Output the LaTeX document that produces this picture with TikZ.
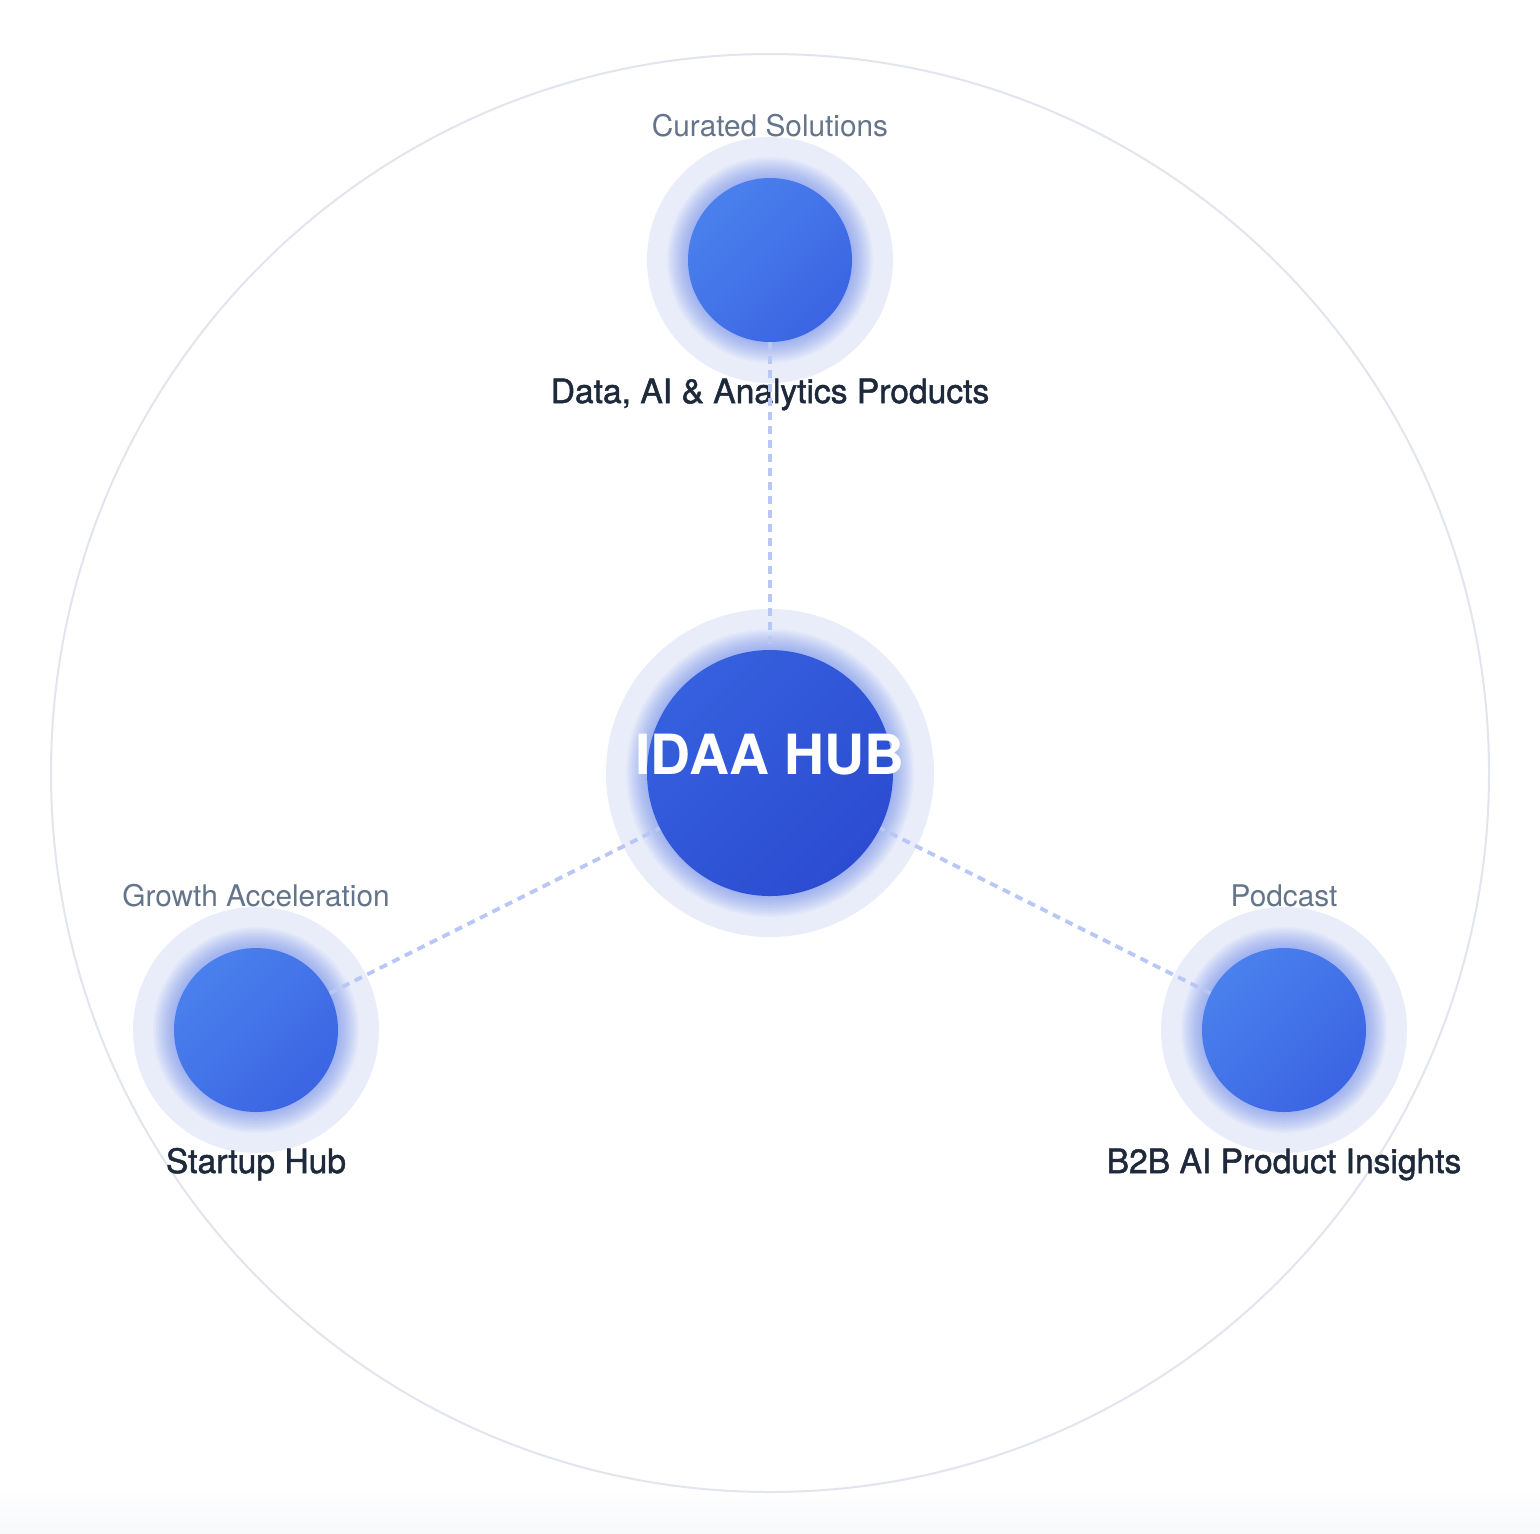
\documentclass[tikz,border=0pt]{standalone}
\usepackage{fontspec}
\setmainfont{TeX Gyre Heros}
\newfontfamily\medfont[FakeBold=1.4]{TeX Gyre Heros}
\usepackage{tikz}

\definecolor{ringgray}{HTML}{E3E5EE}
\definecolor{halofill}{HTML}{E9EDFA}
\definecolor{glowblue}{HTML}{5A7CF0}
\definecolor{satlight}{HTML}{4A80ED}
\definecolor{satdark}{HTML}{3B65E3}
\definecolor{hublight}{HTML}{3560DE}
\definecolor{hubdark}{HTML}{2C4CD1}
\definecolor{dashblue}{HTML}{B8C7F6}
\definecolor{tagtext}{HTML}{64748B}
\definecolor{nametext}{HTML}{1E293B}
\definecolor{bgbottom}{HTML}{F7F8FA}

\begin{document}
\begin{tikzpicture}[x=0.5pt,y=-0.5pt,
  halo/.style={circle,fill=halofill,inner sep=0pt},
  satnode/.style={circle,inner sep=0pt,minimum size=82pt,
    top color=satlight,bottom color=satdark,shading angle=45},
  hubnode/.style={circle,inner sep=0pt,minimum size=123pt,
    top color=hublight,bottom color=hubdark,shading angle=45},
  tagtxt/.style={anchor=base,text=tagtext,font=\fontsize{14.9}{17}\selectfont},
  titletxt/.style={anchor=base,text=nametext,font=\medfont\fontsize{16.8}{20}\selectfont},
  link/.style={dashblue,line width=1.9pt,dash pattern=on 4pt off 3pt}]
\useasboundingbox (0,0) rectangle (1540,1533);
\fill[white] (0,0) rectangle (1540,1533);
\shade[top color=white,bottom color=bgbottom] (0,1490) rectangle (1540,1533);

% outer ring
\draw[ringgray,line width=1pt] (770,773) circle (719);

\coordinate (pdata) at (770,260);
\coordinate (pstart) at (256,1030);
\coordinate (ppod) at (1284,1030);
\coordinate (phub) at (770,773);

% halos
\node[halo,minimum size=164pt] (hubhalo) at (phub) {};
\node[halo,minimum size=123pt] (datahalo) at (pdata) {};
\node[halo,minimum size=123pt] (starthalo) at (pstart) {};
\node[halo,minimum size=123pt] (podhalo) at (ppod) {};

% glow
\foreach \p/\r in {pdata/82,pstart/82,ppod/82,phub/123}
  \foreach \k in {1,...,14}
    \fill[glowblue,opacity=0.045] (\p) circle ({\r+1.5*\k});

% labels
\node[tagtxt] (datatag) at (770,136) {Curated Solutions};
\node[titletxt] (dataname) at (770,403) {Data, AI \& Analytics Products};
\node[tagtxt] (starttag) at (256,906) {Growth Acceleration};
\node[titletxt] (startname) at (256,1173) {Startup Hub};
\node[tagtxt] (podtag) at (1284,906) {Podcast};
\node[titletxt] (podname) at (1284,1173) {B2B AI Product Insights};

% circles
\node[satnode] (data) at (pdata) {};
\node[satnode] (startup) at (pstart) {};
\node[satnode] (podcast) at (ppod) {};
\node[hubnode] (hub) at (phub) {};
\node[anchor=base,text=white,font=\bfseries\fontsize{27.7}{30}\selectfont] (hubtext) at (770,774) {IDAA HUB};

% links
\draw[link] (data) -- (hub);
\draw[link] (startup) -- (hub);
\draw[link] (podcast) -- (hub);
\end{tikzpicture}
\end{document}
